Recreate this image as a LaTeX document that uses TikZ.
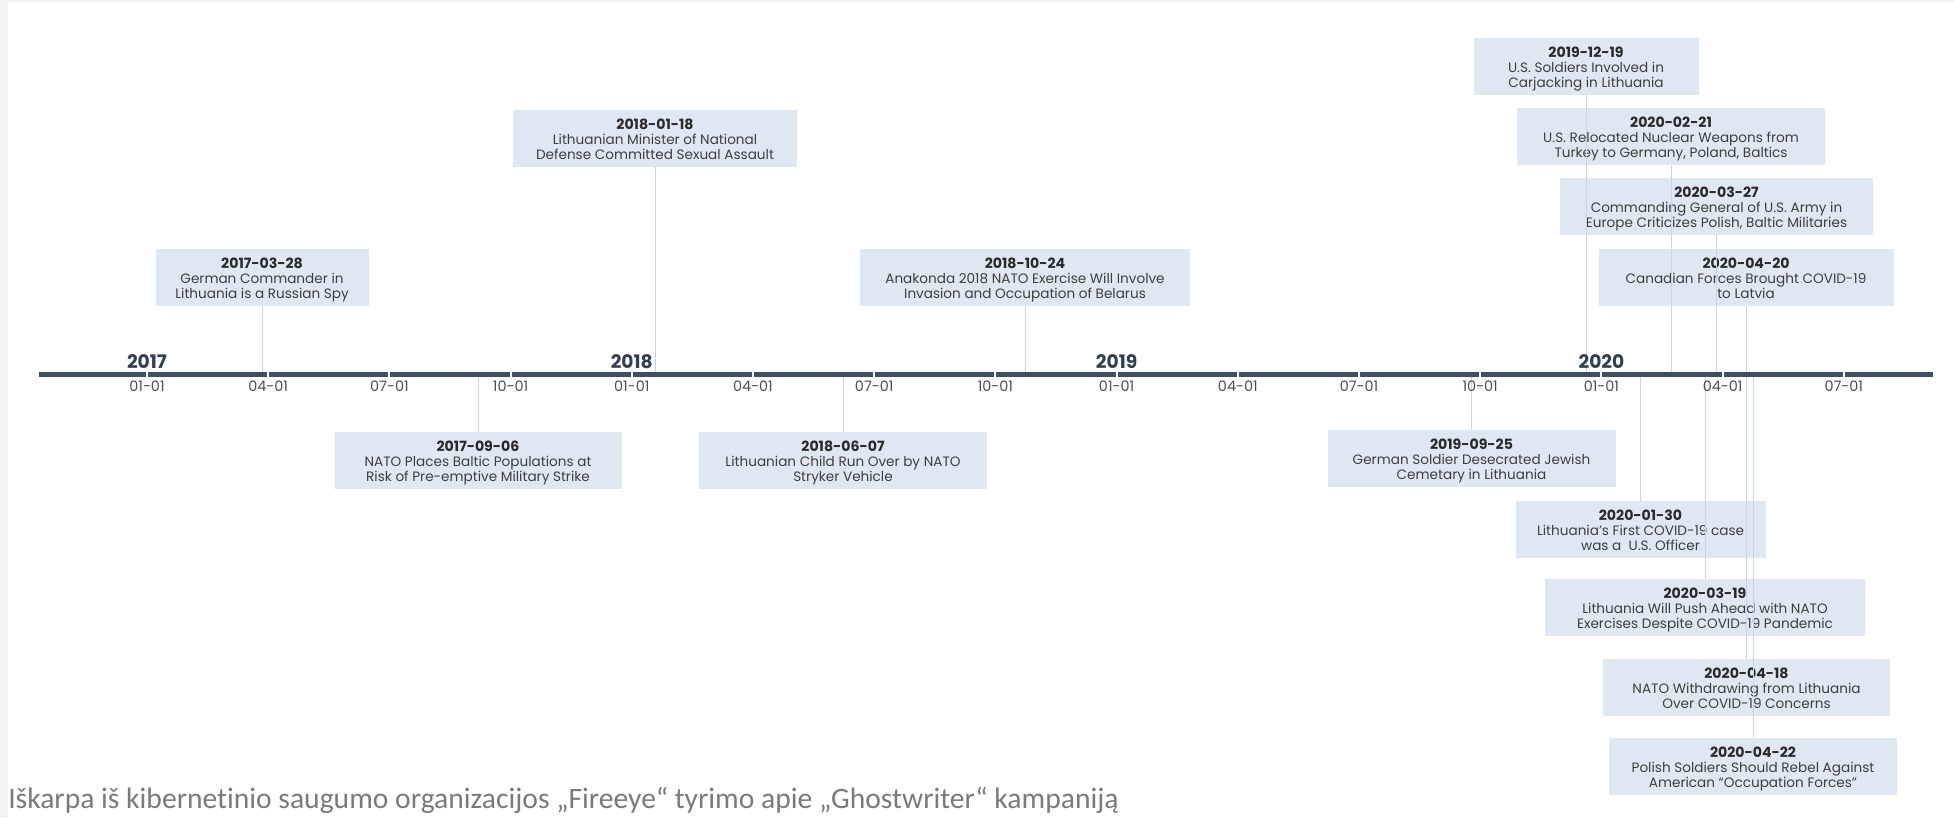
\documentclass[tikz,border=0pt]{standalone}
\usepackage{fontspec}
\setmainfont{Poppins}
\newfontfamily\capfont[Ligatures=NoCommon]{Carlito}
\definecolor{bggray}{HTML}{F3F3F3}
\definecolor{axiscol}{HTML}{3D4F63}
\definecolor{boxcol}{HTML}{DFE8F2}
\definecolor{leadcol}{HTML}{C3D6EB}
\definecolor{datecol}{HTML}{2A2A2A}
\definecolor{bodycol}{HTML}{3E3E3E}
\definecolor{monthcol}{HTML}{4A4F55}
\definecolor{capcol}{HTML}{7A7A7A}
\tikzset{
  evbox/.style={fill=boxcol, inner sep=0pt, minimum height=57*0.75pt, draw=none},
  evtxt/.style={anchor=north, inner sep=0pt, align=center, text=bodycol,
     font=\fontsize{10.2}{11.25}\selectfont},
  leader/.style={draw=leadcol, line width=0.75pt},
  monthlbl/.style={anchor=base, inner sep=0pt, text=monthcol, font=\fontsize{10.8}{12}\selectfont},
  yearlbl/.style={anchor=base, inner sep=0pt, text=axiscol!80!black, font=\fontsize{14}{16}\selectfont\bfseries},
}
% name, cx, top, width, date, line1, line2
\newcommand\mkevent[7]{%
  \node[evbox, minimum width=#4*0.75pt] (b#1) at (#2, #3+28.5) {};
  \node[evtxt] (t#1) at (#2, #3+9) {\textcolor{datecol}{\fontsize{10.6}{11.25}\selectfont\bfseries #5}\\#6\\#7};
}
\begin{document}
\begin{tikzpicture}[x=0.75pt, y=-0.75pt]
\useasboundingbox (0,0) rectangle (1954,818);
\fill[bggray] (0,0) rectangle (1954,818);
\fill[white] (8,3) rectangle (1954,818);

% axis reference coordinates
\coordinate (axT) at (0,372);
\coordinate (axB) at (0,377);

% events above
\mkevent{1}{262}{249}{213}{2017-03-28}{German Commander in}{Lithuania is a Russian Spy}
\mkevent{2}{655}{110}{284}{2018-01-18}{Lithuanian Minister of National}{Defense Committed Sexual Assault}
\mkevent{3}{1025}{249}{330}{2018-10-24}{Anakonda 2018 NATO Exercise Will Involve}{Invasion and Occupation of Belarus}
\mkevent{4}{1586}{38}{225}{2019-12-19}{U.S. Soldiers Involved in}{Carjacking in Lithuania}
\mkevent{5}{1671}{108}{308}{2020-02-21}{U.S. Relocated Nuclear Weapons from}{Turkey to Germany, Poland, Baltics}
\mkevent{6}{1716.5}{178}{313}{2020-03-27}{Commanding General of U.S. Army in}{Europe Criticizes Polish, Baltic Militaries}
\mkevent{7}{1746}{249}{295}{2020-04-20}{Canadian Forces Brought COVID-19}{to Latvia}
% events below
\mkevent{8}{478}{432}{287}{2017-09-06}{NATO Places Baltic Populations at}{Risk of Pre-emptive Military Strike}
\mkevent{9}{843}{432}{288}{2018-06-07}{Lithuanian Child Run Over by NATO}{Stryker Vehicle}
\mkevent{10}{1471.5}{430}{288}{2019-09-25}{German Soldier Desecrated Jewish}{Cemetary in Lithuania}
\mkevent{11}{1640.5}{501}{250}{2020-01-30}{Lithuania's First COVID-19 case}{was a \ U.S. Officer}
\mkevent{12}{1705}{579}{320}{2020-03-19}{Lithuania Will Push Ahead with NATO}{Exercises Despite COVID-19 Pandemic}
\mkevent{13}{1746.5}{659}{287}{2020-04-18}{NATO Withdrawing from Lithuania}{Over COVID-19 Concerns}
\mkevent{14}{1753}{737.5}{288}{2020-04-22}{Polish Soldiers Should Rebel Against}{American “Occupation Forces”}

% leaders
\foreach \i in {1,...,7} {\draw[leader] (b\i.south) -- (b\i.south |- axT);}
\foreach \i in {8,...,14} {\draw[leader] (b\i.north) -- (b\i.north |- axB);}

% axis
\draw[axiscol, line width=3.8pt] (39,374.5) -- (1933,374.5);
\foreach \k in {0,...,14} {
  \draw[white, line width=1.6pt] ({147+121.2*\k},371.5) -- ({147+121.2*\k},377.6);
}
% month labels
\foreach \k/\m in {0/01-01,1/04-01,2/07-01,3/10-01,4/01-01,5/04-01,6/07-01,7/10-01,8/01-01,9/04-01,10/07-01,11/10-01,12/01-01,13/04-01,14/07-01} {
  \node[monthlbl] (m\k) at ({147+121.2*\k},391) {\m};
}
% year labels
\foreach \k/\y in {0/2017,4/2018,8/2019,12/2020} {
  \node[yearlbl] (y\y) at ({147+121.2*\k},368) {\y};
}

% caption
\node[anchor=base west, inner sep=0pt, text=capcol, font=\capfont\fontsize{22.2}{24}\selectfont] (cap) at (8,808)
  {Iškarpa iš kibernetinio saugumo organizacijos „Fireeye“ tyrimo apie „Ghostwriter“ kampaniją};
\end{tikzpicture}
\end{document}
